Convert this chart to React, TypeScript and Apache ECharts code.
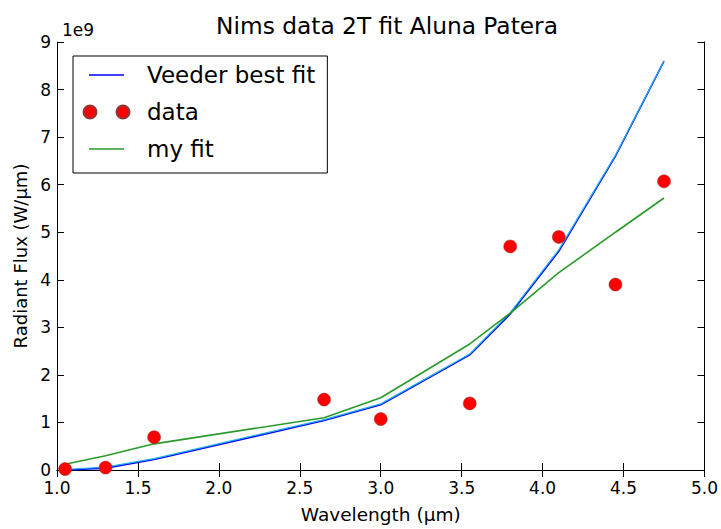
import React, { useEffect, useRef } from "react";
import * as echarts from "echarts";

const wavelengths = [1.05, 1.3, 1.6, 2.65, 3.0, 3.55, 3.8, 4.1, 4.45, 4.75];
const dataFlux = [0.02, 0.05, 0.69, 1.48, 1.07, 1.4, 4.7, 4.9, 3.9, 6.07];
const veederFit = [0.0, 0.04, 0.22, 1.04, 1.37, 2.42, 3.28, 4.6, 6.6, 8.6];
const veederFit2 = [0.01, 0.06, 0.24, 1.06, 1.39, 2.44, 3.31, 4.63, 6.62, 8.6];
const myFit = [0.12, 0.3, 0.55, 1.1, 1.52, 2.65, 3.3, 4.15, 5.0, 5.72];

const xTicks = { min: 1, max: 5, step: 0.5 };
const yTicks = { min: 0, max: 9, step: 1 };

const FONT = "DejaVu Sans";
const LINE_ICON = "path://M0,0M46,13M5.5,5.8h35v1.5h-35z";
const DOTS_ICON =
  "path://M0,6.5a6.5,6.5 0 1,0 13,0a6.5,6.5 0 1,0 -13,0M33,6.5a6.5,6.5 0 1,0 13,0a6.5,6.5 0 1,0 -13,0";

export default function App() {
  const ref = useRef<HTMLDivElement>(null);
  useEffect(() => {
    if (!ref.current) return;
    const chart = echarts.init(ref.current, undefined, { renderer: "svg" });
    const pair = (ys: number[]) => wavelengths.map((x, i) => [x, ys[i]]);
    const axisCommon = {
      axisLine: { show: true, lineStyle: { color: "#000", width: 1 } },
      axisTick: { show: true, inside: true, length: 7, lineStyle: { color: "#000" } },
      splitLine: { show: false },
    };
    chart.setOption({
      animation: false,
      backgroundColor: "#fff",
      textStyle: { fontFamily: FONT },
      title: {
        text: "Nims data 2T fit Aluna Patera",
        left: 382,
        top: 9,
        textAlign: "center",
        textStyle: { fontFamily: FONT, fontSize: 23.3, fontWeight: "normal", color: "#000" },
      },
      legend: {
        left: 73,
        top: 56,
        orient: "vertical",
        backgroundColor: "#fff",
        borderColor: "#000",
        borderWidth: 1,
        borderRadius: 0,
        padding: [6, 12, 11, 9.5],
        itemWidth: 46,
        itemHeight: 13,
        itemGap: 11,
        textStyle: { fontFamily: FONT, fontSize: 23, color: "#000", lineHeight: 26, padding: [0, 0, 0, 12.5] },
        data: [
          { name: "Veeder best fit", icon: LINE_ICON },
          { name: "data", icon: DOTS_ICON },
          { name: "my fit", icon: LINE_ICON },
        ],
      },
      grid: { left: 57, right: 14, top: 42, bottom: 55, containLabel: false },
      xAxis: [
        {
          type: "value",
          min: xTicks.min,
          max: xTicks.max,
          interval: xTicks.step,
          name: "Wavelength (µm)",
          nameLocation: "middle",
          nameGap: 35,
          nameTextStyle: { fontFamily: FONT, fontSize: 18.5, color: "#000" },
          axisLabel: {
            formatter: (v: number) => v.toFixed(1),
            fontFamily: FONT,
            fontSize: 17,
            color: "#000",
            margin: 9,
          },
          ...axisCommon,
        },
        {
          type: "value",
          position: "top",
          min: xTicks.min,
          max: xTicks.max,
          interval: xTicks.step,
          axisLabel: { show: false },
          ...axisCommon,
        },
      ],
      yAxis: [
        {
          type: "value",
          min: yTicks.min,
          max: yTicks.max,
          interval: yTicks.step,
          name: "Radiant Flux (W/µm)",
          nameLocation: "middle",
          nameGap: 28,
          nameTextStyle: { fontFamily: FONT, fontSize: 18, color: "#000" },
          axisLabel: { fontFamily: FONT, fontSize: 17, color: "#000", margin: 6 },
          ...axisCommon,
        },
        {
          type: "value",
          position: "right",
          min: yTicks.min,
          max: yTicks.max,
          interval: yTicks.step,
          axisLabel: { show: false },
          ...axisCommon,
        },
      ],
      graphic: [
        {
          type: "text",
          left: 62,
          top: 21,
          style: { text: "1e9", fontFamily: FONT, fontSize: 17, fill: "#000" },
        },
      ],
      series: [
        {
          name: "Veeder best fit",
          type: "line",
          data: pair(veederFit),
          symbol: "none",
          lineStyle: { color: "#0000ff", width: 1.6 },
          itemStyle: { color: "#0000ff" },
          z: 2,
        },
        {
          name: "veeder2",
          type: "line",
          data: pair(veederFit2),
          symbol: "none",
          lineStyle: { color: "#1fb0e6", width: 1.2 },
          itemStyle: { color: "#1fb0e6" },
          z: 3,
        },
        {
          name: "data",
          type: "scatter",
          data: pair(dataFlux),
          symbol: "circle",
          symbolSize: 13,
          itemStyle: { color: "#ff0000", opacity: 1, borderColor: "#8a3a3a", borderWidth: 0.5 },
          z: 5,
        },
        {
          name: "my fit",
          type: "line",
          data: pair(myFit),
          symbol: "none",
          lineStyle: { color: "#2a9a2a", width: 1.6 },
          itemStyle: { color: "#2a9a2a" },
          z: 4,
        },
      ],
    });
    return () => chart.dispose();
  }, []);
  return <div ref={ref} style={{ width: 721, height: 529, position: "absolute", left: 0, top: 0 }} />;
}
